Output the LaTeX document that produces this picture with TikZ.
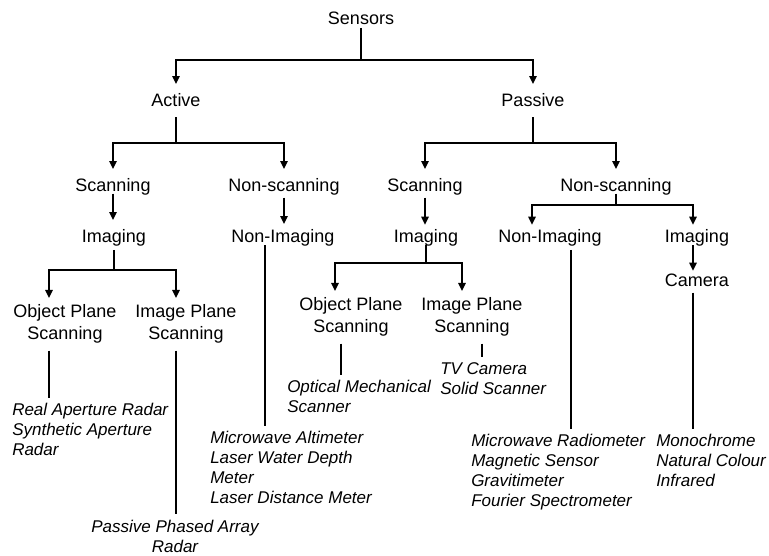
\documentclass[tikz,border=0pt]{standalone}
\usepackage{fontspec}
\setmainfont{Liberation Sans}
\usetikzlibrary{arrows.meta}
\tikzset{
  lbl/.style={font=\fontsize{13.5}{16.5}\selectfont,anchor=base,inner xsep=1pt,inner ysep=0pt,text height=17pt,text depth=4pt},
  grp/.style={font=\fontsize{13.5}{16.5}\selectfont,anchor=north,align=center,inner xsep=1pt,inner ysep=5pt},
  leaf/.style={font=\itshape\fontsize{12.75}{15}\selectfont,anchor=north west,align=left,inner xsep=0pt,inner ysep=4pt},
  link/.style={line width=1.1pt},
  arr/.style={link,-{Triangle[length=6pt,width=5.5pt]}}
}
\begin{document}
\begin{tikzpicture}[x=0.75pt,y=-0.75pt]
\useasboundingbox (0,0) rectangle (769,556);
% top levels
\node[lbl,text depth=2pt] (sensors) at (361,25) {Sensors};
\node[lbl,text depth=7.5pt] (active) at (176,107) {Active};
\node[lbl,text depth=7.5pt] (passive) at (533,107) {Passive};
\node[lbl,text depth=1pt] (scanA) at (113,192) {Scanning};
\node[lbl] (nscanA) at (284,192) {Non-scanning};
\node[lbl] (scanP) at (425,192) {Scanning};
\node[lbl,text depth=1pt] (nscanP) at (616,192) {Non-scanning};
% imaging / non-imaging
\node[lbl,text depth=5pt] (imgA) at (114,243) {Imaging};
\node[lbl,text height=14pt,text depth=1.5pt] (nimgA) at (283,243) {Non-Imaging};
\node[lbl,text height=13.5pt,text depth=1.5pt] (imgP) at (426,243) {Imaging};
\node[lbl,text height=13.5pt,text depth=5pt] (nimgP) at (550,243) {Non-Imaging};
\node[lbl,text height=13.5pt,text depth=1.5pt] (imgC) at (697,243) {Imaging};
\node[lbl,text height=12pt] (camera) at (697,287) {Camera};
% scanning planes
\node[grp] (objA) at (65,298) {Object Plane\\Scanning};
\node[grp] (imgplA) at (186,298) {Image Plane\\Scanning};
\node[grp] (objP) at (351,291) {Object Plane\\Scanning};
\node[grp] (imgplP) at (472,291) {Image Plane\\Scanning};
% sensor lists
\node[leaf] (leafA1) at (12,397.7) {Real Aperture Radar\\Synthetic Aperture\\Radar};
\node[leaf,anchor=north,align=center] (leafA2) at (175,514.5) {Passive Phased Array\\Radar};
\node[leaf] (leafA3) at (210,425.7) {Microwave Altimeter\\Laser Water Depth\\Meter\\Laser Distance Meter};
\node[leaf] (leafP1) at (287,374.7) {Optical Mechanical\\Scanner};
\node[leaf] (leafP2) at (440,356.7) {TV Camera\\Solid Scanner};
\node[leaf] (leafP3) at (471,428.7) {Microwave Radiometer\\Magnetic Sensor\\Gravitimeter\\Fourier Spectrometer};
\node[leaf] (leafP4) at (656,428.7) {Monochrome\\Natural Colour\\Infrared};
% bar heights
\coordinate (bar0) at (0,60);
\coordinate (bar1) at (0,143);
\coordinate (barN) at (0,205);
\coordinate (barIP) at (0,263);
\coordinate (barIA) at (0,270);
% connectors
\draw[link] (sensors.south) -- (sensors.south |- bar0);
\draw[arr] (sensors.south |- bar0) -| (active.north);
\draw[arr] (sensors.south |- bar0) -| (passive.north);
\draw[link] (active.south) -- (active.south |- bar1);
\draw[arr] (active.south |- bar1) -| (scanA.north);
\draw[arr] (active.south |- bar1) -| (nscanA.north);
\draw[link] (passive.south) -- (passive.south |- bar1);
\draw[arr] (passive.south |- bar1) -| (scanP.north);
\draw[arr] (passive.south |- bar1) -| (nscanP.north);
\draw[arr] (scanA.south) -- (scanA.south |- imgA.north);
\draw[arr] (nscanA.south) -- (nscanA.south |- nimgA.north);
\draw[arr] (scanP.south) -- (scanP.south |- imgP.north);
\draw[link] (nscanP.south) -- (nscanP.south |- barN);
\draw[arr] (nscanP.south |- barN) -| ([xshift=-13.5pt]nimgP.north);
\draw[arr] (nscanP.south |- barN) -| ([xshift=-3pt]imgC.north);
\draw[arr] ([xshift=-3pt]imgC.south) -- ([xshift=-3pt]imgC.south |- camera.north);
\draw[link] (imgA.south) -- (imgA.south |- barIA);
\draw[arr] (imgA.south |- barIA) -| ([xshift=-12pt]objA.north);
\draw[arr] (imgA.south |- barIA) -| ([xshift=-7.5pt]imgplA.north);
\draw[link] (imgP.south) -- (imgP.south |- barIP);
\draw[arr] (imgP.south |- barIP) -| ([xshift=-12pt]objP.north);
\draw[arr] (imgP.south |- barIP) -| ([xshift=-7.5pt]imgplP.north);
% down to the lists
\draw[link] ([xshift=-12pt]objA.south) -- ([xshift=-12pt]objA.south |- leafA1.north);
\draw[link] ([xshift=-7.5pt]imgplA.south) -- ([xshift=-7.5pt]imgplA.south |- leafA2.north);
\draw[link] ([xshift=-13.5pt]nimgA.south) -- ([xshift=-13.5pt]nimgA.south |- leafA3.north);
\draw[link] ([xshift=-7.5pt]objP.south) -- ([xshift=-7.5pt]objP.south |- leafP1.north);
\draw[link] ([xshift=7.5pt]imgplP.south) -- ([xshift=7.5pt]imgplP.south |- leafP2.north);
\draw[link] ([xshift=15.75pt]nimgP.south) -- ([xshift=15.75pt]nimgP.south |- leafP3.north);
\draw[link] ([xshift=-3pt]camera.south) -- ([xshift=-3pt]camera.south |- leafP4.north);
\end{tikzpicture}
\end{document}
